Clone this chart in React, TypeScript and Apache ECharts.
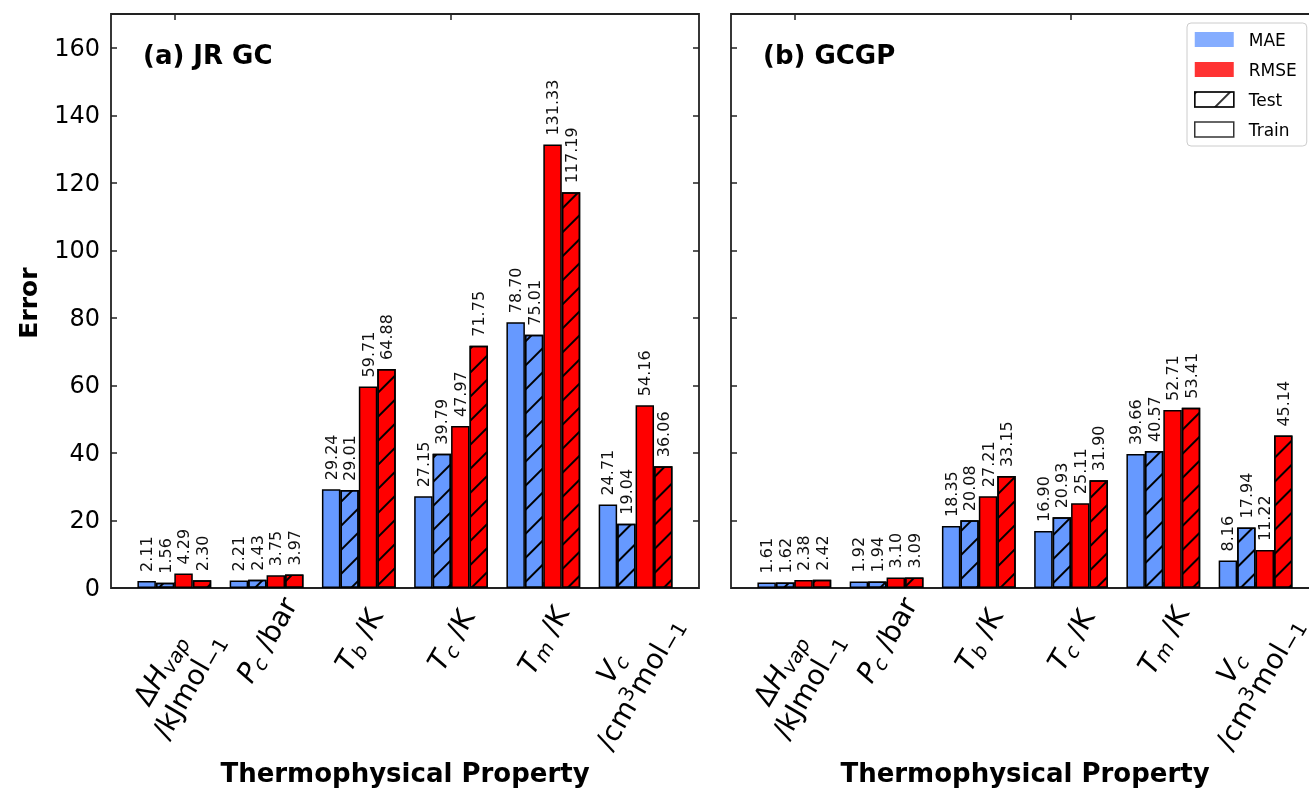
import React, { useEffect, useRef } from 'react';
import * as echarts from 'echarts';

const categories = [
  '{gap|}\n{n|Δ}{i|H}{s|vap}{g|}\n{n|/kJmol}{sb|−1}{g|}',
  '{i|P}{s|c}{n| /bar}',
  '{i|T}{s|b}{n| /K}',
  '{i|T}{s|c}{n| /K}',
  '{i|T}{s|m}{n| /K}',
  '{gap2|}\n{i|V}{s|c}{g2|}\n{n|/cm}{sp|3}{n|mol}{sb|−1}{g2|}',
];

// Panel (a) JR GC
const jrMaeTrain = [2.11, 2.21, 29.24, 27.15, 78.7, 24.71];
const jrMaeTest = [1.56, 2.43, 29.01, 39.79, 75.01, 19.04];
const jrRmseTrain = [4.29, 3.75, 59.71, 47.97, 131.33, 54.16];
const jrRmseTest = [2.3, 3.97, 64.88, 71.75, 117.19, 36.06];

// Panel (b) GCGP
const gpMaeTrain = [1.61, 1.92, 18.35, 16.9, 39.66, 8.16];
const gpMaeTest = [1.62, 1.94, 20.08, 20.93, 40.57, 17.94];
const gpRmseTrain = [2.38, 3.1, 27.21, 25.11, 52.71, 11.22];
const gpRmseTest = [2.42, 3.09, 33.15, 31.9, 53.41, 45.14];

const yTicks = { min: 0, max: 170, interval: 20 };

const FONT = '"DejaVu Sans", sans-serif';
const BLUE = '#6699ff';
const RED = '#ff0000';

const decal = {
  symbol: 'rect',
  symbolSize: 1,
  color: '#000',
  dashArrayX: [1, 0],
  dashArrayY: [1.4, 15],
  rotation: -Math.PI / 4,
};

const rich = {
  n: { fontSize: 28, fontFamily: FONT, color: '#000', lineHeight: 33 },
  i: { fontSize: 28, fontFamily: FONT, fontStyle: 'italic', color: '#000', lineHeight: 33 },
  s: { fontSize: 20, fontFamily: FONT, fontStyle: 'italic', color: '#000', lineHeight: 18, verticalAlign: 'bottom' },
  sb: { fontSize: 20, fontFamily: FONT, color: '#000', lineHeight: 18, verticalAlign: 'bottom' },
  sp: { fontSize: 20, fontFamily: FONT, color: '#000', lineHeight: 18, verticalAlign: 'top' },
  g: { fontSize: 10, width: 66, height: 1, color: 'transparent' },
  gap: { fontSize: 10, width: 1, height: 38, lineHeight: 38, color: 'transparent' },
  g2: { fontSize: 10, width: 72, height: 1, color: 'transparent' },
  gap2: { fontSize: 10, width: 1, height: 18, lineHeight: 18, color: 'transparent' },
};

export default function App() {
  const ref = useRef<HTMLDivElement>(null);
  useEffect(() => {
    if (!ref.current) return;
    const chart = echarts.init(ref.current, undefined, { renderer: 'svg' });

    const panels = [
      { outerLeft: 111, innerLeft: 128.2, data: [jrMaeTrain, jrMaeTest, jrRmseTrain, jrRmseTest] },
      { outerLeft: 731, innerLeft: 748.2, data: [gpMaeTrain, gpMaeTest, gpRmseTrain, gpRmseTest] },
    ];
    const top = 14;
    const height = 574;
    const outerWidth = 588;
    const innerWidth = 553.5;

    const grid: any[] = [];
    const xAxis: any[] = [];
    const yAxis: any[] = [];
    const series: any[] = [];

    panels.forEach((p, pi) => {
      const gOuter = grid.length;
      grid.push({ left: p.outerLeft, top, width: outerWidth, height, show: true, borderColor: '#222', borderWidth: 1.8, backgroundColor: 'transparent', containLabel: false, outerBoundsMode: 'none' });
      const gInner = grid.length;
      grid.push({ left: p.innerLeft, top, width: innerWidth, height, containLabel: false, outerBoundsMode: 'none' });

      xAxis.push({ gridIndex: gOuter, type: 'value', min: 0, max: 1, show: false });
      const xb = xAxis.length;
      xAxis.push({
        gridIndex: gInner, type: 'category', data: categories, position: 'bottom',
        axisLine: { show: false },
        axisTick: { show: true, inside: true, alignWithLabel: true, length: 6, lineStyle: { color: '#222', width: 1.5 } },
        axisLabel: {
          interval: 0, rotate: 60, align: 'center', verticalAlign: 'middle', margin: 52,
          rich,
          formatter: (v: string) => v,
        },
      });
      xAxis.push({
        gridIndex: gInner, type: 'category', data: categories, position: 'top',
        axisLine: { show: false },
        axisTick: { show: true, inside: true, alignWithLabel: true, length: 6, lineStyle: { color: '#222', width: 1.5 } },
        axisLabel: { show: false },
      });

      yAxis.push({
        gridIndex: gOuter, type: 'value', ...yTicks, position: 'left',
        axisLine: { show: false }, splitLine: { show: false },
        axisTick: { show: true, inside: true, length: 6, lineStyle: { color: '#222', width: 1.5 } },
        axisLabel: { show: pi === 0, showMaxLabel: false, fontSize: 24, fontFamily: FONT, color: '#000', margin: 11 },
      });
      yAxis.push({
        gridIndex: gOuter, type: 'value', ...yTicks, position: 'right',
        axisLine: { show: false }, splitLine: { show: false },
        axisTick: { show: true, inside: true, length: 6, lineStyle: { color: '#222', width: 1.5 } },
        axisLabel: { show: false },
      });
      const yi = yAxis.length;
      yAxis.push({ gridIndex: gInner, type: 'value', ...yTicks, show: false, splitLine: { show: false } });

      const colors = [BLUE, BLUE, RED, RED];
      const hatched = [false, true, false, true];
      const names = ['MAE Train', 'MAE Test', 'RMSE Train', 'RMSE Test'];
      p.data.forEach((d, si) => {
        series.push({
          type: 'bar',
          name: names[si],
          xAxisIndex: xb,
          yAxisIndex: yi,
          data: d,
          barWidth: '20%',
          barGap: '0%',
          itemStyle: {
            color: colors[si],
            borderColor: '#000',
            borderWidth: 1.5,
            ...(hatched[si] ? { decal } : {}),
          },
          label: {
            show: true, position: 'top', rotate: 90, align: 'left', verticalAlign: 'middle', distance: 9,
            fontSize: 16, fontFamily: FONT, color: '#111',
            formatter: (q: any) => Number(q.value).toFixed(2),
          },
        });
      });
    });

    const legendNames = ['MAE', 'RMSE', 'Test', 'Train'];
    legendNames.forEach((n) => {
      series.push({ type: 'scatter', name: n, xAxisIndex: 0, yAxisIndex: 0, data: [] });
    });

    chart.setOption({
      animation: false,
      grid,
      xAxis,
      yAxis,
      series,
      legend: {
        orient: 'vertical',
        left: 1187,
        top: 23,
        padding: [8, 10, 8, 7],
        itemWidth: 39,
        itemHeight: 15,
        itemGap: 13,
        icon: 'rect',
        borderColor: '#ccc',
        borderWidth: 1,
        borderRadius: 4,
        backgroundColor: '#fff',
        selectedMode: false,
        textStyle: { fontSize: 17, fontFamily: FONT, color: '#000', padding: [0, 0, 0, 10] },
        data: [
          { name: 'MAE', itemStyle: { color: BLUE, borderWidth: 0 } },
          { name: 'RMSE', itemStyle: { color: RED, borderWidth: 0 } },
          { name: 'Test', itemStyle: { color: '#fff', borderColor: '#000', borderWidth: 1.5, decal: { ...decal, dashArrayY: [1.4, 22] } } },
          { name: 'Train', itemStyle: { color: '#fff', borderColor: '#000', borderWidth: 1.5 } },
        ],
      },
      graphic: [
        { type: 'text', x: 143, y: 55, style: { text: '(a) JR GC', font: `bold 26px ${FONT}`, fill: '#000', align: 'left', verticalAlign: 'middle' } },
        { type: 'text', x: 763, y: 55, style: { text: '(b) GCGP', font: `bold 26px ${FONT}`, fill: '#000', align: 'left', verticalAlign: 'middle' } },
        { type: 'text', x: 28, y: 303, rotation: Math.PI / 2, style: { text: 'Error', font: `bold 25px ${FONT}`, fill: '#000', align: 'center', verticalAlign: 'middle' } },
        { type: 'text', x: 405, y: 773, style: { text: 'Thermophysical Property', font: `bold 26px ${FONT}`, fill: '#000', align: 'center', verticalAlign: 'middle' } },
        { type: 'text', x: 1025, y: 773, style: { text: 'Thermophysical Property', font: `bold 26px ${FONT}`, fill: '#000', align: 'center', verticalAlign: 'middle' } },
      ],
    });
    return () => chart.dispose();
  }, []);
  return <div ref={ref} style={{ position: 'fixed', left: 0, top: 0, width: 1309, height: 788 }} />;
}
